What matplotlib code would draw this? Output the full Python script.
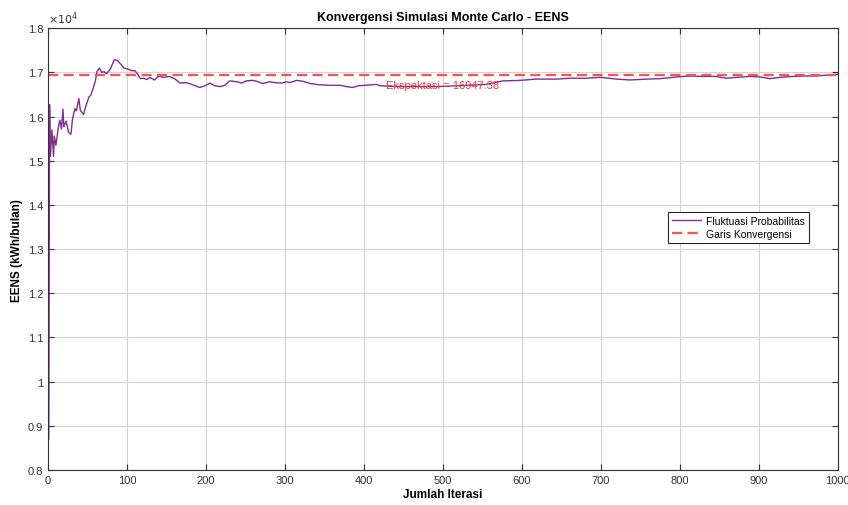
import numpy as np
import matplotlib.pyplot as plt
from matplotlib.ticker import FuncFormatter, MultipleLocator

plt.rcParams['font.family'] = ['Liberation Sans', 'DejaVu Sans']

# Data (EENS running mean, kWh/bulan)
iterasi = [1, 2, 3, 5, 7, 8, 10, 11, 13, 15, 17, 19, 20, 23, 26, 29, 31, 34, 36, 39,
           41, 45, 48, 52, 54, 57, 60, 62, 65, 68, 71, 74, 79, 84, 88, 92, 96, 102, 106, 110,
           113, 117, 121, 125, 129, 135, 140, 146, 154, 161, 167, 175, 182, 192, 199, 205, 211, 218, 224, 230,
           239, 245, 251, 260, 266, 272, 281, 287, 296, 302, 306, 315, 323, 332, 344, 357, 370, 378, 386, 393,
           403, 416, 420, 441, 471, 492, 521, 555, 576, 597, 618, 644, 661, 682, 699, 720, 737, 758, 775, 791,
           804, 813, 829, 846, 859, 872, 889, 901, 914, 927, 943, 956, 973, 986, 1000]
eens = [8700, 16270, 15100, 15700, 15100, 15560, 15350, 15480, 15750, 15920, 15720, 16170, 15770, 15900, 15640, 15600, 15940, 16180, 16130, 16410,
        16140, 16050, 16240, 16450, 16480, 16630, 16810, 17020, 17100, 17000, 17020, 16970, 17080, 17290, 17270, 17190, 17100, 17070, 17040, 17040,
        16970, 16860, 16870, 16840, 16886, 16830, 16920, 16890, 16910, 16850, 16760, 16770, 16730, 16660, 16700, 16760, 16700, 16680, 16710, 16810,
        16790, 16760, 16810, 16820, 16790, 16750, 16790, 16770, 16760, 16790, 16770, 16820, 16800, 16750, 16720, 16710, 16710, 16680, 16660, 16700,
        16710, 16730, 16700, 16680, 16680, 16680, 16700, 16730, 16810, 16820, 16850, 16850, 16870, 16870, 16890, 16850, 16830, 16850, 16860, 16890,
        16910, 16920, 16910, 16910, 16870, 16890, 16910, 16900, 16860, 16890, 16910, 16920, 16920, 16940, 16960]
ekspektasi = 16947.38

fig = plt.figure(figsize=(8.48, 5.06), dpi=100)
ax = fig.add_axes([0.0566, 0.0692, 0.9314, 0.8729])

ax.plot(iterasi, eens, color='#7E2F8E', lw=1.0, label='Fluktuasi Probabilitas')
ax.axhline(ekspektasi, color='#FF4F4F', lw=1.6, dashes=(4.6, 2.4), label='Garis Konvergensi')
ax.text(500, ekspektasi * 0.986, 'Ekspektasi = %.2f' % ekspektasi, color='#FF3030',
        fontsize=8, ha='center', va='center')

ax.set_xlim(0, 1000)
ax.set_ylim(8000, 18000)
ax.xaxis.set_major_locator(MultipleLocator(100))
ax.yaxis.set_major_locator(MultipleLocator(1000))
ax.yaxis.set_major_formatter(FuncFormatter(lambda v, p: '%g' % round(v / 1e4, 2)))
ax.grid(True, color='#d4d4d4', lw=0.8)
ax.set_axisbelow(True)
ax.tick_params(direction='in', top=True, right=True, labelsize=8, colors='#333333',
               length=4, width=0.8)
for s in ax.spines.values():
    s.set_color('#333333')
    s.set_linewidth(0.8)

ax.text(0.0, 1.005, r'$\times10^{4}$', transform=ax.transAxes, fontsize=8,
        color='#333333', ha='left', va='bottom')
ax.set_title('Konvergensi Simulasi Monte Carlo - EENS', fontsize=9, fontweight='bold', pad=6)
ax.set_xlabel('Jumlah Iterasi', fontsize=8.5, fontweight='bold', labelpad=2)
ax.set_ylabel('EENS (kWh/bulan)', fontsize=8.5, fontweight='bold', labelpad=3)

leg = ax.legend(loc='upper left', bbox_to_anchor=(0.785, 0.585), fontsize=7.5,
                fancybox=False, edgecolor='#262626', framealpha=1, borderpad=0.4,
                borderaxespad=0, handlelength=2.8, handletextpad=0.4, labelspacing=0.3)
leg.get_frame().set_linewidth(0.8)

fig.savefig('out.png', dpi=100)
